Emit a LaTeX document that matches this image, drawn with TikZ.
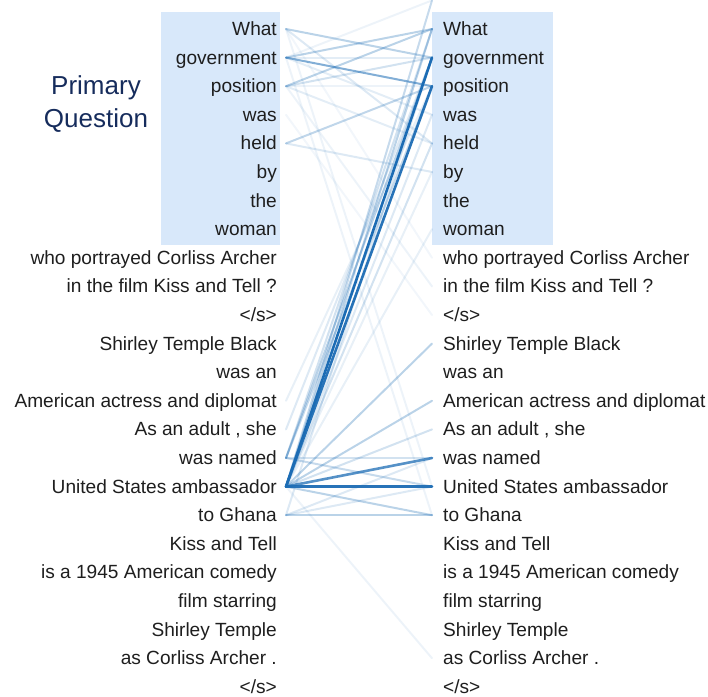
\documentclass[tikz,border=0pt]{standalone}
\usepackage{fontspec}
\setmainfont{Liberation Sans}
\definecolor{attn}{RGB}{28,108,180}
\definecolor{qbox}{RGB}{216,232,250}
\definecolor{tokgray}{RGB}{30,30,30}
\definecolor{navy}{RGB}{22,44,92}
\begin{document}
\begin{tikzpicture}[x=1pt,y=-1pt,
  tok/.style={font=\fontsize{19.1}{21}\selectfont, text=tokgray, inner sep=0pt},
  lefttok/.style={tok, anchor=base east},
  righttok/.style={tok, anchor=base west},
  link/.style={draw=attn, line width=2pt, line cap=round, draw opacity=#1},
  stronglink/.style={draw=attn, line width=2.6pt, line cap=round, draw opacity=#1},
  qlabel/.style={font=\fontsize{26}{30}\selectfont, text=navy, inner sep=0pt, anchor=base}]
\useasboundingbox (0,0) rectangle (708,696);

% highlighted question spans
\fill[qbox] (161,12) rectangle (280,245);
\fill[qbox] (432,12) rectangle (553,245);

% attachment points of the attention links
\foreach \i in {0,...,23} {
  \coordinate (l\i) at (286,{29+28.6*\i});
  \coordinate (r\i) at (432,{29+28.6*\i});
}
\coordinate (rt) at (432,0.4);

% faint links
\foreach \a/\b/\o in {
  16/t/0.25, 1/t/0.08, 16/0/0.3, 15/0/0.2, 15/1/0.3, 15/2/0.25, 17/1/0.15,
  14/1/0.15, 13/2/0.1, 16/3/0.15, 16/4/0.2, 16/5/0.1, 16/7/0.1,
  0/4/0.15, 1/3/0.12, 2/4/0.12, 1/1/0.12, 2/2/0.08, 2/1/0.2, 4/5/0.15,
  0/8/0.06, 3/10/0.06, 2/9/0.08, 0/16/0.08, 1/17/0.08, 16/22/0.08,
  16/11/0.3, 16/13/0.3, 16/14/0.2, 16/17/0.3,
  15/15/0.2, 15/16/0.25, 17/17/0.3, 17/15/0.15, 17/16/0.15,
  0/1/0.3, 1/0/0.3, 2/0/0.3, 4/2/0.28} {
  \draw[link=\o] (l\a) -- (r\b);
}
% strong links
\draw[link=0.55] (l1) -- (r2);
\draw[stronglink=0.75] (l16) -- (r15);
\draw[stronglink=0.95] (l16) -- (r16);
\draw[stronglink=0.95] (l16) -- (r2);
\draw[stronglink=1] (l16) -- (r1);

% token columns
\foreach \i/\t in {
  0/What, 1/government, 2/position, 3/was, 4/held, 5/by, 6/the, 7/woman,
  8/who portrayed Corliss Archer, 9/in the film Kiss and Tell ?, 10/{</s>},
  11/Shirley Temple Black, 12/was an, 13/American actress and diplomat,
  14/{As an adult , she}, 15/was named, 16/United States ambassador,
  17/to Ghana, 18/Kiss and Tell, 19/is a 1945 American comedy,
  20/film starring, 21/Shirley Temple, 22/as Corliss Archer ., 23/{</s>}} {
  \node[lefttok] (lt\i) at (277,{35.5+28.6*\i}) {\t};
  \node[righttok] (rt\i) at (443,{35.5+28.6*\i}) {\t};
}

\node[qlabel] (qa) at (96,94) {Primary};
\node[qlabel] (qb) at (96,127) {Question};
\end{tikzpicture}
\end{document}
